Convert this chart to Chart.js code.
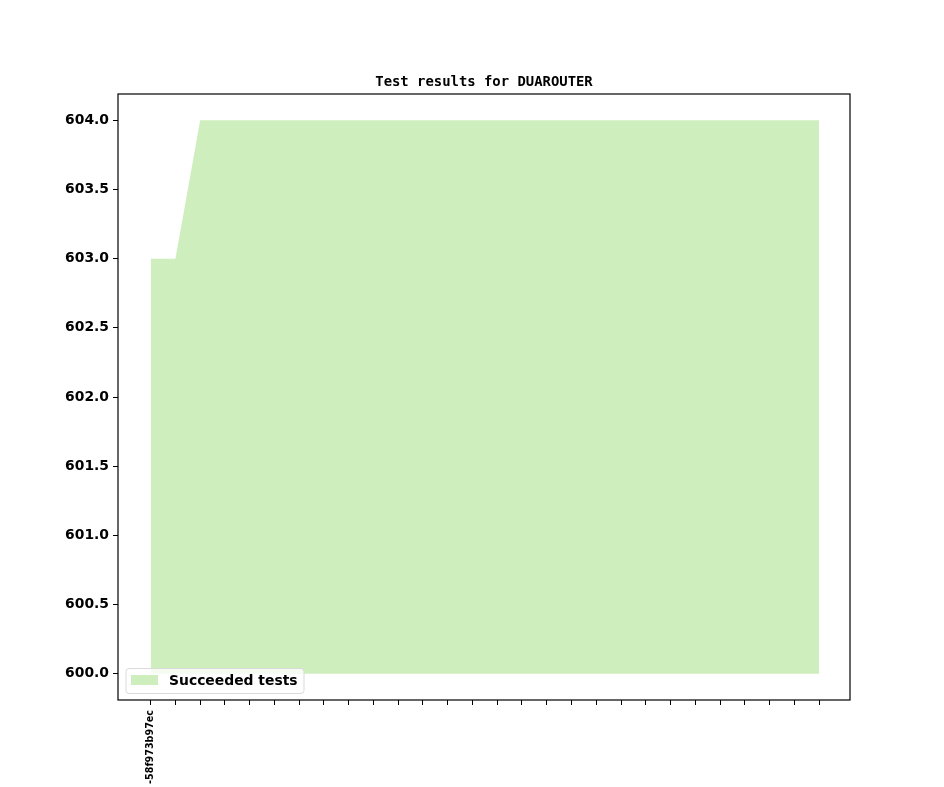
<!DOCTYPE html>
<html>
<head>
<meta charset="utf-8">
<script src="https://cdn.jsdelivr.net/npm/chart.js"></script>
<style>
  html, body { margin: 0; padding: 0; background: #fff; }
  #wrap { width: 944px; height: 787px; position: relative; }
</style>
</head>
<body>
<div id="wrap"><canvas id="testChart" width="944" height="787"></canvas></div>
<script>
// Datos del gráfico
const commits = ['-58f973b97ec', '', '', '', '', '', '', '', '', '', '', '', '', '',
                 '', '', '', '', '', '', '', '', '', '', '', '', '', ''];
const succeeded = [603, 603, 604, 604, 604, 604, 604, 604, 604, 604, 604, 604, 604, 604,
                   604, 604, 604, 604, 604, 604, 604, 604, 604, 604, 604, 604, 604, 604];
const yTicks = [600.0, 600.5, 601.0, 601.5, 602.0, 602.5, 603.0, 603.5, 604.0];
const chartTitle = 'Test results for DUAROUTER';
const seriesLabel = 'Succeeded tests';

const fillColor = 'rgb(207, 238, 190)';
const fontSans = "'DejaVu Sans', sans-serif";

// Marco, título y leyenda al estilo matplotlib
const framePlugin = {
    id: 'frame',
    afterDraw(chart) {
        const ctx = chart.ctx;
        const a = chart.chartArea;
        ctx.save();
        ctx.strokeStyle = '#000';
        ctx.lineWidth = 1.2;
        ctx.strokeRect(a.left, a.top, a.right - a.left, a.bottom - a.top);

        // título
        ctx.fillStyle = '#000';
        ctx.font = "bold 13.9px 'DejaVu Sans Mono', monospace";
        ctx.textAlign = 'center';
        ctx.textBaseline = 'alphabetic';
        ctx.fillText(chartTitle, (a.left + a.right) / 2, 86);

        // leyenda
        const lx = a.left + 8, ly = a.bottom - 31.5, lw = 178, lh = 25;
        ctx.globalAlpha = 0.8;
        ctx.fillStyle = '#fff';
        ctx.beginPath();
        ctx.roundRect(lx, ly, lw, lh, 3);
        ctx.fill();
        ctx.globalAlpha = 1;
        ctx.strokeStyle = '#d9d9d9';
        ctx.lineWidth = 1;
        ctx.stroke();
        ctx.fillStyle = fillColor;
        ctx.fillRect(lx + 5, ly + 6.5, 27, 10);
        ctx.fillStyle = '#000';
        ctx.font = 'bold 13.9px ' + fontSans;
        ctx.textAlign = 'left';
        ctx.textBaseline = 'middle';
        ctx.fillText(seriesLabel, lx + 43, ly + 12.5);
        ctx.restore();
    }
};

const config = {
    type: 'line',
    data: {
        datasets: [{
            label: seriesLabel,
            data: succeeded.map((v, i) => ({ x: i, y: v })),
            borderWidth: 0,
            borderColor: fillColor,
            backgroundColor: fillColor,
            pointRadius: 0,
            tension: 0,
            fill: { value: 600 }
        }]
    },
    options: {
        responsive: false,
        animation: false,
        layout: { padding: { top: 94, right: 94, left: 0, bottom: 0 } },
        plugins: {
            legend: { display: false },
            title: { display: false },
            tooltip: { enabled: false }
        },
        scales: {
            x: {
                type: 'linear',
                min: -1.32,
                max: commits.length - 1 + 1.25,
                afterBuildTicks(scale) {
                    scale.ticks = commits.map((c, i) => ({ value: i }));
                },
                afterFit(scale) { scale.height = 87; },
                grid: {
                    drawOnChartArea: false,
                    drawTicks: true,
                    tickLength: 5,
                    tickColor: '#000',
                    tickWidth: 1
                },
                border: { display: false },
                ticks: {
                    autoSkip: false,
                    maxRotation: 90,
                    minRotation: 90,
                    padding: 5,
                    color: '#000',
                    font: { family: fontSans, size: 9.6, weight: 'bold' },
                    callback: function(value) {
                        return commits[value] !== undefined ? commits[value] : '';
                    }
                }
            },
            y: {
                min: 599.81,
                max: 604.19,
                afterBuildTicks(scale) {
                    scale.ticks = yTicks.map(v => ({ value: v }));
                },
                afterFit(scale) { scale.width = 118; },
                grid: {
                    drawOnChartArea: false,
                    drawTicks: true,
                    tickLength: 5,
                    tickColor: '#000',
                    tickWidth: 1
                },
                border: { display: false },
                ticks: {
                    padding: 4,
                    color: '#000',
                    font: { family: fontSans, size: 13.9, weight: 'bold' },
                    callback: function(value) {
                        return value.toFixed(1);
                    }
                }
            }
        }
    },
    plugins: [framePlugin]
};

new Chart(document.getElementById('testChart'), config);
</script>
</body>
</html>
